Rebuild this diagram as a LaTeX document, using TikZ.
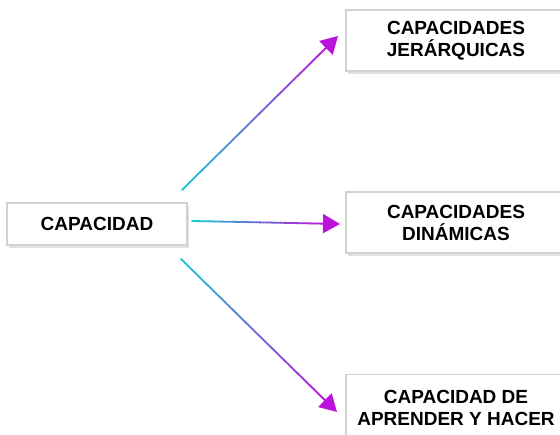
\documentclass[tikz,border=0pt]{standalone}
\usepackage{fontspec}
\setmainfont{Liberation Sans}
\usetikzlibrary{calc,arrows.meta,shadows}
\definecolor{arrowstart}{HTML}{18C8D0}
\definecolor{arrowend}{HTML}{BB12DC}
\definecolor{boxline}{HTML}{D2D2D2}
\tikzset{
  boxnode/.style={draw=boxline, line width=1.5pt, fill=white, align=center,
    inner sep=0pt, font=\fontsize{19}{22}\selectfont\bfseries,
    drop shadow={shadow xshift=1.5pt, shadow yshift=-3pt, opacity=0.12, fill=black}},
  gradseg/.style={line width=1.8pt, line cap=round},
  headtip/.style={-{Triangle[length=17pt,width=19pt]}, line width=1.8pt, arrowend}
}
\newcommand{\gradarrow}[2]{%
  \coordinate (gp) at ($(#2)!12pt!(#1)$);
  \foreach \i in {0,...,39}{%
    \pgfmathsetmacro{\pc}{100*\i/39}%
    \draw[gradseg, color=arrowend!\pc!arrowstart] ($(#1)!\i/40!(gp)$) -- ($(#1)!\i/40+1/40!(gp)$);
  }%
  \draw[headtip] (gp) -- (#2);
}
\begin{document}
\begin{tikzpicture}[x=1pt,y=-1pt]
\useasboundingbox (0,0) rectangle (560,435);
\node[boxnode, minimum width=180pt, minimum height=42pt] (cap) at (97,224) {CAPACIDAD};
\node[boxnode, minimum width=220pt, minimum height=61pt] (jer) at (456,40.5) {CAPACIDADES\\JERÁRQUICAS};
\node[boxnode, minimum width=220pt, minimum height=61pt] (din) at (456,222.5) {CAPACIDADES\\DINÁMICAS};
\node[boxnode, minimum width=220pt, minimum height=66pt] (apr) at (456,407.5) {CAPACIDAD DE\\APRENDER Y HACER};
\coordinate (s1) at (182,190);
\coordinate (e1) at (338,36);
\coordinate (s2) at (192,221);
\coordinate (e2) at (340,224);
\coordinate (s3) at (181,259);
\coordinate (e3) at (337,412);
\gradarrow{s1}{e1}
\gradarrow{s2}{e2}
\gradarrow{s3}{e3}
\end{tikzpicture}
\end{document}
